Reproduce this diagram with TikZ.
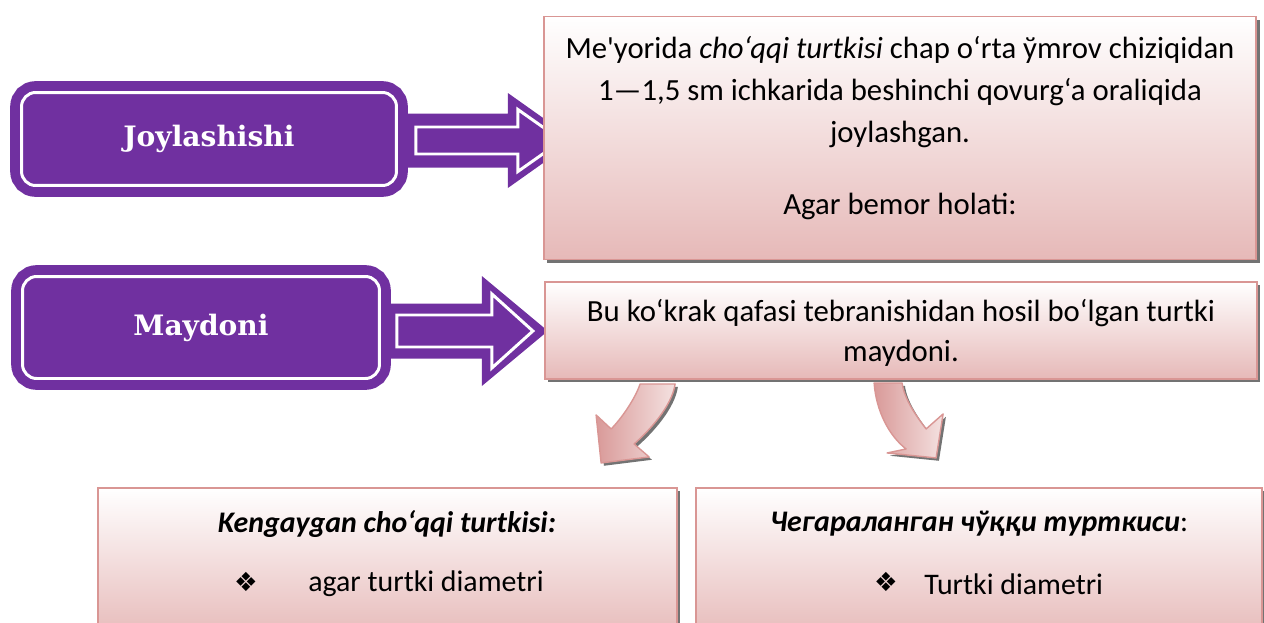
\documentclass[tikz,border=0pt]{standalone}
\usepackage{fontspec}
\setmainfont{Carlito}
\newfontfamily\labelfont{DejaVu Serif}
\newfontfamily\symfont{DejaVu Sans}
\usetikzlibrary{positioning,calc,shadows}

\definecolor{boxpurple}{HTML}{7030A0}
\definecolor{pinkedge}{HTML}{D99694}
\definecolor{pinkbot}{HTML}{E6B9B8}
\definecolor{pinklight}{HTML}{F4E1E0}
\definecolor{pinkdark}{HTML}{D99A99}

\tikzset{
  titlebox/.style={rounded corners=8pt, fill=boxpurple, draw=boxpurple,
    line width=5.6pt, double=white, double distance=1.7pt, inner sep=0pt,
    text=white, font=\labelfont\bfseries\fontsize{16}{18}\selectfont},
  infobox/.style={draw=pinkedge, line width=1.1pt, top color=white,
    bottom color=pinkbot, inner sep=0pt,
    drop shadow={shadow xshift=1.8pt, shadow yshift=-1.8pt, fill=black!55, opacity=1}},
  infotext/.style={align=center, inner sep=0pt, font=\fontsize{17}{24}\selectfont},
  bendarrow/.style={draw=pinkedge, line width=0.8pt, line join=round,
    drop shadow={shadow xshift=1.6pt, shadow yshift=-1.6pt, fill=black!55, opacity=1}},
}

\begin{document}
\begin{tikzpicture}[x=0.02cm, y=-0.02cm]
    \useasboundingbox (0,0) rectangle (1264,622);
    \clip (0,0) rectangle (1264,622);

    % Purple headings
    \node[titlebox, minimum width=7.5cm, minimum height=1.86cm] (joy) at (209,139) {Joylashishi};
    \node[titlebox, minimum width=7.14cm, minimum height=2.04cm] (may) at (201,327.5) {Maydoni};

    % Block arrows
    \begin{scope}[shift={($(joy.east)+(0,1.5)$)}]
        \fill[boxpurple] (5,-27) -- (106.5,-27) -- (106.5,-47.5) -- (173.5,0)
            -- (106.5,47.5) -- (106.5,27) -- (5,27) -- cycle;
        \draw[white, line width=1.7pt] (14.5,-13.5) -- (116.5,-13.5) -- (116.5,-31)
            -- (160.5,0) -- (116.5,31) -- (116.5,13.5) -- (14.5,13.5) -- cycle;
    \end{scope}
    \begin{scope}[shift={($(may.east)+(0,3.5)$)}]
        \fill[boxpurple] (5,-27.5) -- (97.5,-27.5) -- (97.5,-55) -- (163.5,0)
            -- (97.5,55) -- (97.5,27.5) -- (5,27.5) -- cycle;
        \draw[white, line width=1.7pt] (12.5,-16) -- (107.5,-16) -- (107.5,-37)
            -- (148.5,0) -- (107.5,37) -- (107.5,16) -- (12.5,16) -- cycle;
    \end{scope}

    % Pink text boxes
    \node[infobox, minimum width=14.26cm, minimum height=4.86cm] (norm) at (900,138) {};
    \node[infotext, font=\fontsize{17.5}{24}\selectfont] (normtext) at (900,92) {Me\textquotesingle yorida \textit{cho‘qqi turtkisi} chap o‘rta ўmrov chiziqidan\\
        1—1,5 sm ichkarida beshinchi qovurg‘a oraliqida\\joylashgan.};
    \node[infotext, font=\fontsize{17.5}{24}\selectfont] (state) at (900,206) {Agar bemor holati:};

    \node[infobox, minimum width=14.24cm, minimum height=1.94cm] (field) at (901,330.5) {};
    \node[infotext, font=\fontsize{17.5}{23}\selectfont] (fieldtext) at (901,333) {Bu ko‘krak qafasi tebranishidan hosil bo‘lgan turtki\\maydoni.};

    % Bent arrows
    \begin{scope}[shift={(field.south west)}]
        \draw[bendarrow, left color=pinkdark, right color=pinklight]
            (96,4) .. controls (91,19) and (77,39) .. (67,49) -- (52,35) -- (57,83)
            -- (105,77) -- (90,64) .. controls (105,51) and (128,26) .. (131,4) -- cycle;
        \draw[bendarrow, left color=pinkdark, right color=pinklight]
            (330,3) .. controls (332,31) and (345,56) .. (362,69) -- (343,73) -- (392,78)
            -- (399,34) -- (382,49) .. controls (372,36) and (360,19) .. (358,3) -- cycle;
    \end{scope}

    % Lower boxes
    \node[infobox, minimum width=11.58cm, minimum height=3.06cm, anchor=north] (wide) at (387.5,487) {};
    \node[infobox, minimum width=11.32cm, minimum height=3.06cm, anchor=north] (tight) at (979,487) {};

    \node[infotext, font=\fontsize{17}{20}\selectfont\bfseries\itshape] (widetitle) at (387,524) {Kengaygan cho‘qqi turtkisi:};
    \node[infotext] (tighttitle) at (979,524) {\textbf{\textit{Чегараланган чўққи турткиси}}:};

    \node[infotext, font=\symfont\fontsize{15}{17}\selectfont] (widemark) at (246,582) {❖};
    \node[infotext, anchor=west] (widebullet) at (308,584) {agar turtki diametri};
    \node[infotext, font=\symfont\fontsize{15}{17}\selectfont] (tightmark) at (886,582) {❖};
    \node[infotext, anchor=west] (tightbullet) at (924,584) {Turtki diametri};
\end{tikzpicture}
\end{document}
